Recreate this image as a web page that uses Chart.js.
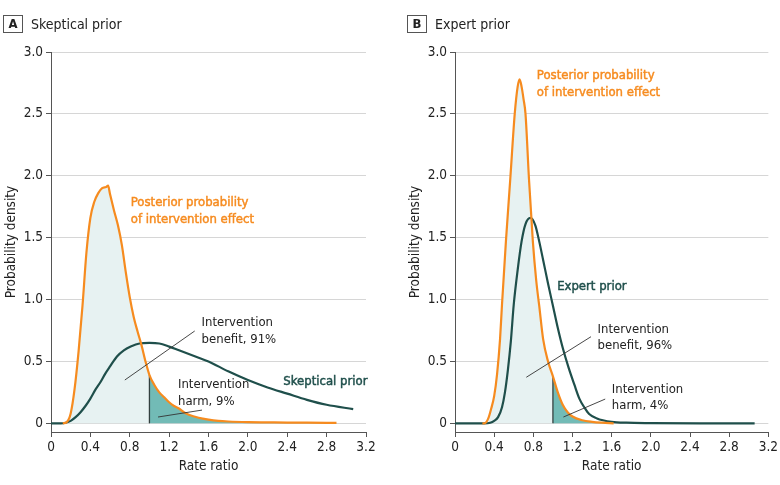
<!DOCTYPE html>
<html>
<head>
<meta charset="utf-8">
<script src="https://cdn.jsdelivr.net/npm/chart.js@4.4.1/dist/chart.umd.min.js"></script>
<style>
  body { margin: 0; background: #fff; width: 780px; height: 485px; position: relative; overflow: hidden;
         font-family: "Liberation Sans Narrow", "DejaVu Sans Condensed", Roboto, sans-serif; color: #222; }
  .panel { position: absolute; top: 0; height: 485px; }
  #pa { left: 0; width: 390px; }
  #pb { left: 404px; width: 376px; }
  .head { position: absolute; top: 15px; left: 3px; display: flex; align-items: center; }
  .box { width: 18px; height: 16px; border: 1px solid #555; font-weight: bold; font-size: 13px;
         text-align: center; line-height: 16px; }
  .head span { margin-left: 8px; font-size: 14px; }
</style>
</head>
<body>
<div class="panel" id="pa">
  <canvas id="chartA" width="390" height="485"></canvas>
  <div class="head"><div class="box">A</div><span>Skeptical prior</span></div>
</div>
<div class="panel" id="pb">
  <canvas id="chartB" width="376" height="485"></canvas>
  <div class="head"><div class="box">B</div><span>Expert prior</span></div>
</div>
<script>
// axis ticks
const xTicks = [0, 0.4, 0.8, 1.2, 1.6, 2.0, 2.4, 2.8, 3.2];
const yTicks = [0, 0.5, 1.0, 1.5, 2.0, 2.5, 3.0];
const harmThreshold = 1.0;   // rate ratio above 1 = harm

// A - skeptical prior
const postA_x = [0.12, 0.16, 0.20, 0.24, 0.28, 0.32, 0.36, 0.40, 0.44, 0.48, 0.52, 0.56, 0.58, 0.60, 0.64, 0.68, 0.72, 0.76, 0.80, 0.84, 0.88, 0.92, 0.96, 1.00, 1.05, 1.10, 1.15, 1.20, 1.25, 1.30, 1.35, 1.40, 1.50, 1.60, 1.70, 1.80, 2.00, 2.20, 2.40, 2.60, 2.90];
const postA_y = [0, 0.01, 0.08, 0.28, 0.58, 0.95, 1.38, 1.66, 1.79, 1.86, 1.90, 1.91, 1.92, 1.85, 1.72, 1.60, 1.44, 1.22, 1.02, 0.86, 0.74, 0.63, 0.50, 0.39, 0.31, 0.25, 0.21, 0.17, 0.14, 0.12, 0.09, 0.07, 0.045, 0.03, 0.02, 0.015, 0.01, 0.008, 0.006, 0.005, 0.004];
const priorA_x = [0, 0.10, 0.15, 0.20, 0.25, 0.30, 0.35, 0.40, 0.45, 0.50, 0.55, 0.60, 0.67, 0.74, 0.81, 0.90, 1.00, 1.10, 1.20, 1.30, 1.40, 1.50, 1.60, 1.80, 2.00, 2.20, 2.40, 2.60, 2.80, 3.07];
const priorA_y = [0, 0, 0.005, 0.02, 0.05, 0.09, 0.14, 0.20, 0.27, 0.33, 0.40, 0.46, 0.54, 0.59, 0.62, 0.645, 0.65, 0.645, 0.62, 0.59, 0.56, 0.53, 0.50, 0.42, 0.35, 0.29, 0.24, 0.19, 0.15, 0.115];

// B - expert prior
const postB_x = [0.28, 0.30, 0.34, 0.37, 0.40, 0.43, 0.46, 0.48, 0.52, 0.565, 0.61, 0.64, 0.66, 0.68, 0.70, 0.72, 0.755, 0.795, 0.83, 0.86, 0.90, 0.95, 1.00, 1.05, 1.10, 1.15, 1.20, 1.30, 1.40, 1.50, 1.62];
const postB_y = [0, 0, 0.04, 0.12, 0.22, 0.40, 0.68, 0.96, 1.47, 1.98, 2.50, 2.72, 2.78, 2.72, 2.62, 2.50, 1.98, 1.47, 1.15, 0.95, 0.68, 0.50, 0.38, 0.25, 0.15, 0.09, 0.055, 0.025, 0.012, 0.005, 0];
const priorB_x = [0, 0.30, 0.36, 0.40, 0.44, 0.48, 0.51, 0.54, 0.57, 0.60, 0.64, 0.68, 0.72, 0.77, 0.82, 0.86, 0.90, 0.95, 1.00, 1.05, 1.10, 1.16, 1.22, 1.27, 1.32, 1.37, 1.45, 1.51, 1.60, 1.75, 2.00, 2.50, 3.06];
const priorB_y = [0, 0, 0.005, 0.02, 0.05, 0.13, 0.25, 0.43, 0.66, 0.96, 1.24, 1.47, 1.61, 1.66, 1.60, 1.47, 1.32, 1.13, 0.95, 0.77, 0.61, 0.45, 0.31, 0.20, 0.13, 0.075, 0.04, 0.025, 0.012, 0.005, 0.002, 0, 0];

const FONT = '"Liberation Sans Narrow", "DejaVu Sans Condensed", Roboto, sans-serif';
const ORANGE = '#f68b1f';
const DARK = '#1f4f4b';
const LIGHT = '#e7f2f2';
const TEAL = '#72bbb6';

Chart.defaults.font.family = FONT;
Chart.defaults.font.size = 13.5;
Chart.defaults.color = '#222';

// text + leader lines, given in data units
const notes = {
  id: 'notes',
  afterDatasetsDraw(chart, args, opts) {
    const { ctx, scales: { x, y } } = chart;
    ctx.save();
    ctx.strokeStyle = '#333';
    ctx.lineWidth = 0.9;
    (opts.lines || []).forEach(l => {
      ctx.beginPath();
      ctx.moveTo(x.getPixelForValue(l[0]), y.getPixelForValue(l[1]));
      ctx.lineTo(x.getPixelForValue(l[2]), y.getPixelForValue(l[3]));
      ctx.stroke();
    });
    ctx.textBaseline = 'middle';
    (opts.labels || []).forEach(t => {
      ctx.font = '13px ' + FONT;
      ctx.fillStyle = t.color || '#222';
      ctx.strokeStyle = t.color || '#222';
      ctx.lineWidth = 0.45;
      t.text.forEach((s, i) => {
        const px = x.getPixelForValue(t.x), py = y.getPixelForValue(t.y) + i * 16.5;
        ctx.fillText(s, px, py);
        if (t.color) ctx.strokeText(s, px, py);   // coloured labels are a bit heavier
      });
    });
    ctx.restore();
  }
};

function pts(xs, ys) {
  return xs.map((v, i) => ({ x: v, y: ys[i] }));
}

function fmt(v) {
  return v === 0 ? '0' : v.toFixed(1);
}

function makeChart(id, postX, postY, priorX, priorY, rightPad, noteOpts) {
  const post = pts(postX, postY);
  const benefit = post.filter(p => p.x <= harmThreshold);
  const harm = post.filter(p => p.x >= harmThreshold);
  const cut = post.find(p => p.x === harmThreshold);

  const line = { pointRadius: 0, cubicInterpolationMode: 'monotone', fill: false };

  return new Chart(document.getElementById(id), {
    type: 'line',
    data: {
      datasets: [
        { ...line, data: post, borderColor: ORANGE, borderWidth: 2.2, order: 0 },
        { ...line, data: pts(priorX, priorY), borderColor: DARK, borderWidth: 2.2, order: 1 },
        { ...line, data: [{ x: harmThreshold, y: 0 }, { x: harmThreshold, y: cut.y }],
          borderColor: '#33403f', borderWidth: 1.3, order: 2 },
        { ...line, data: harm, borderWidth: 0, backgroundColor: TEAL, fill: 'origin', order: 3 },
        { ...line, data: benefit, borderWidth: 0, backgroundColor: LIGHT, fill: 'origin', order: 4 }
      ]
    },
    options: {
      responsive: false,
      animation: false,
      layout: { padding: { left: 0, right: rightPad, top: 52, bottom: 0 } },
      plugins: { legend: { display: false }, tooltip: { enabled: false }, notes: noteOpts },
      scales: {
        x: {
          type: 'linear', min: 0, max: 3.2,
          afterBuildTicks: s => { s.ticks = xTicks.map(v => ({ value: v })); },
          afterFit: s => { s.height = 53; },
          ticks: { callback: fmt, padding: 2, maxRotation: 0, color: '#222' },
          grid: { drawOnChartArea: false, tickLength: 5, tickColor: '#555' },
          border: { color: '#555', width: 1 },
          title: { display: true, text: 'Rate ratio', color: '#222', font: { size: 13.5 }, padding: { bottom: 10 } }
        },
        y: {
          type: 'linear', min: -0.07, max: 3.0,
          afterBuildTicks: s => { s.ticks = yTicks.map(v => ({ value: v })); },
          afterFit: s => { s.width = 51; },
          ticks: { callback: fmt, padding: 3, color: '#222' },
          grid: { color: '#d6d6d6', lineWidth: 1, tickLength: 5, tickColor: '#555' },
          border: { color: '#555', width: 1 },
          title: { display: true, text: 'Probability density', color: '#222', font: { size: 13.5 }, padding: { top: 3 } }
        }
      }
    },
    plugins: [notes]
  });
}

makeChart('chartA', postA_x, postA_y, priorA_x, priorA_y, 24, {
  labels: [
    { x: 0.81, y: 1.78, text: ['Posterior probability', 'of intervention effect'], color: ORANGE },
    { x: 1.53, y: 0.81, text: ['Intervention', 'benefit, 91%'] },
    { x: 1.29, y: 0.31, text: ['Intervention', 'harm, 9%'] },
    { x: 2.36, y: 0.335, text: ['Skeptical prior'], color: DARK }
  ],
  lines: [
    [0.75, 0.35, 1.46, 0.746],
    [1.087, 0.051, 1.534, 0.107]
  ]
});

makeChart('chartB', postB_x, postB_y, priorB_x, priorB_y, 10, {
  labels: [
    { x: 0.836, y: 2.806, text: ['Posterior probability', 'of intervention effect'], color: ORANGE },
    { x: 1.043, y: 1.104, text: ['Expert prior'], color: DARK },
    { x: 1.456, y: 0.759, text: ['Intervention', 'benefit, 96%'] },
    { x: 1.602, y: 0.275, text: ['Intervention', 'harm, 4%'] }
  ],
  lines: [
    [0.728, 0.372, 1.389, 0.70],
    [1.107, 0.051, 1.534, 0.196]
  ]
});
</script>
</body>
</html>
